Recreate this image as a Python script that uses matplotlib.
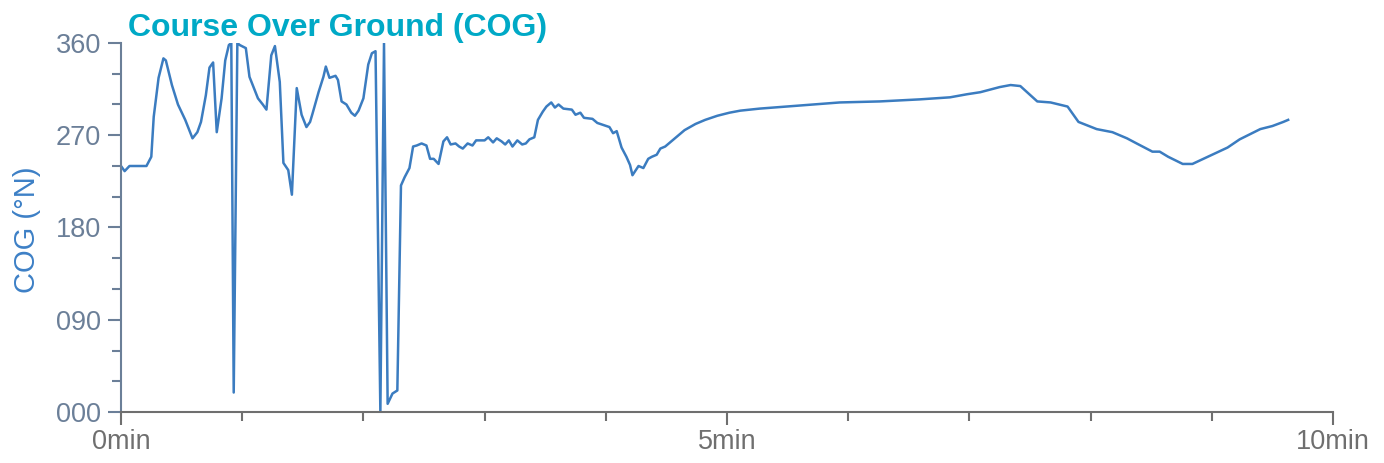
import matplotlib

matplotlib.use("Agg")
import matplotlib.pyplot as plt
from matplotlib.ticker import FuncFormatter, MultipleLocator

plt.rcParams["font.family"] = ["Liberation Sans", "DejaVu Sans"]

# elapsed time (minutes) and course over ground (degrees)
time_min = [
    0.00, 0.03, 0.07, 0.09, 0.21, 0.25, 0.27, 0.31, 0.35, 0.37, 0.42, 0.47,
    0.53, 0.59, 0.63, 0.66, 0.70, 0.73, 0.76, 0.79, 0.83, 0.86, 0.89, 0.91,
    0.93, 0.96, 0.98, 1.03, 1.06, 1.13, 1.17, 1.20, 1.24, 1.27, 1.31, 1.34,
    1.38, 1.41, 1.45, 1.49, 1.53, 1.56, 1.58, 1.63, 1.67, 1.69, 1.72, 1.77,
    1.79, 1.82, 1.86, 1.90, 1.93, 1.96, 2.00, 2.04, 2.07, 2.10, 2.14, 2.17,
    2.20, 2.24, 2.28, 2.31, 2.34, 2.38, 2.41, 2.44, 2.48, 2.52, 2.55, 2.58,
    2.62, 2.66, 2.69, 2.72, 2.76, 2.79, 2.82, 2.86, 2.90, 2.93, 2.96, 3.00,
    3.03, 3.07, 3.10, 3.14, 3.17, 3.20, 3.23, 3.27, 3.31, 3.34, 3.37, 3.41,
    3.44, 3.48, 3.51, 3.55, 3.58, 3.61, 3.65, 3.72, 3.75, 3.79, 3.82, 3.89,
    3.93, 4.03, 4.06, 4.09, 4.13, 4.17, 4.20, 4.22, 4.27, 4.31, 4.35, 4.38,
    4.42, 4.45, 4.49, 4.55, 4.65, 4.74, 4.82, 4.92, 5.02, 5.11, 5.27, 5.60,
    5.93, 6.26, 6.59, 6.84, 6.98, 7.09, 7.25, 7.34, 7.42, 7.56, 7.67, 7.81,
    7.90, 8.05, 8.18, 8.30, 8.38, 8.51, 8.57, 8.64, 8.76, 8.84, 8.93, 9.04,
    9.13, 9.23, 9.40, 9.50, 9.59, 9.63,
]
cog_deg = [
    240, 235, 240, 240, 240, 249, 288, 326, 345, 343, 319, 300,
    285, 267, 273, 283, 309, 336, 341, 273, 306, 343, 358, 360,
    19, 360, 358, 355, 327, 306, 300, 295, 348, 357, 322, 243,
    236, 212, 316, 290, 278, 283, 291, 312, 327, 337, 326, 328,
    324, 303, 300, 292, 289, 294, 306, 339, 350, 352, 0, 360,
    8, 18, 21, 221, 229, 238, 259, 260, 262, 260, 247, 247,
    242, 264, 268, 261, 262, 259, 257, 262, 260, 265, 265, 265,
    268, 263, 267, 264, 261, 265, 259, 265, 261, 262, 266, 268,
    285, 293, 298, 302, 297, 300, 296, 295, 290, 292, 287, 286,
    282, 278, 272, 274, 258, 249, 241, 231, 240, 238, 247, 249,
    251, 257, 259, 265, 275, 281, 285, 289, 292, 294, 296, 299,
    302, 303, 305, 307, 310, 312, 317, 319, 318, 303, 302, 298,
    283, 276, 273, 267, 262, 254, 254, 249, 242, 242, 247, 253,
    258, 266, 276, 279, 283, 285,
]

LINE = "#3b7cc0"
SLATE = "#6b7f98"
GREY = "#6f6f6f"

fig = plt.figure(figsize=(13.84, 4.63), dpi=100)
ax = fig.add_axes([121 / 1384, 1 - 412 / 463, 1212 / 1384, 369 / 463])

ax.plot(time_min, cog_deg, color=LINE, linewidth=1.8, solid_joinstyle="round")

ax.set_xlim(0, 10)
ax.set_ylim(0, 360)

ax.xaxis.set_major_locator(MultipleLocator(5))
ax.xaxis.set_minor_locator(MultipleLocator(1))
ax.xaxis.set_major_formatter(FuncFormatter(lambda v, _: f"{v:.0f}min"))
ax.yaxis.set_major_locator(MultipleLocator(90))
ax.yaxis.set_minor_locator(MultipleLocator(30))
ax.yaxis.set_major_formatter(FuncFormatter(lambda v, _: f"{int(round(v)):03d}"))

for side in ("top", "right"):
    ax.spines[side].set_visible(False)
ax.spines["left"].set_color(SLATE)
ax.spines["left"].set_linewidth(1.5)
ax.spines["bottom"].set_color(GREY)
ax.spines["bottom"].set_linewidth(1.5)

ax.tick_params(axis="y", which="major", length=9.5, width=1.5, color=SLATE,
               labelcolor=SLATE, labelsize=19.5, pad=5)
ax.tick_params(axis="y", which="minor", length=6.5, width=1.5, color=SLATE)
ax.tick_params(axis="x", which="major", length=9.5, width=1.5, color=GREY,
               labelcolor=GREY, labelsize=19.5, pad=3)
ax.tick_params(axis="x", which="minor", length=6.5, width=1.5, color=GREY)

fig.text(27 / 1384, 1 - 230 / 463, "COG (°N)", rotation=90, ha="center",
         va="center", color="#3d80c6", fontsize=21)
fig.text(128 / 1384, 1 - 36 / 463, "Course Over Ground (COG)", ha="left",
         va="baseline", color="#00a9c6", fontsize=23, fontweight="bold")

fig.savefig("out.png", dpi=100)
plt.close(fig)
